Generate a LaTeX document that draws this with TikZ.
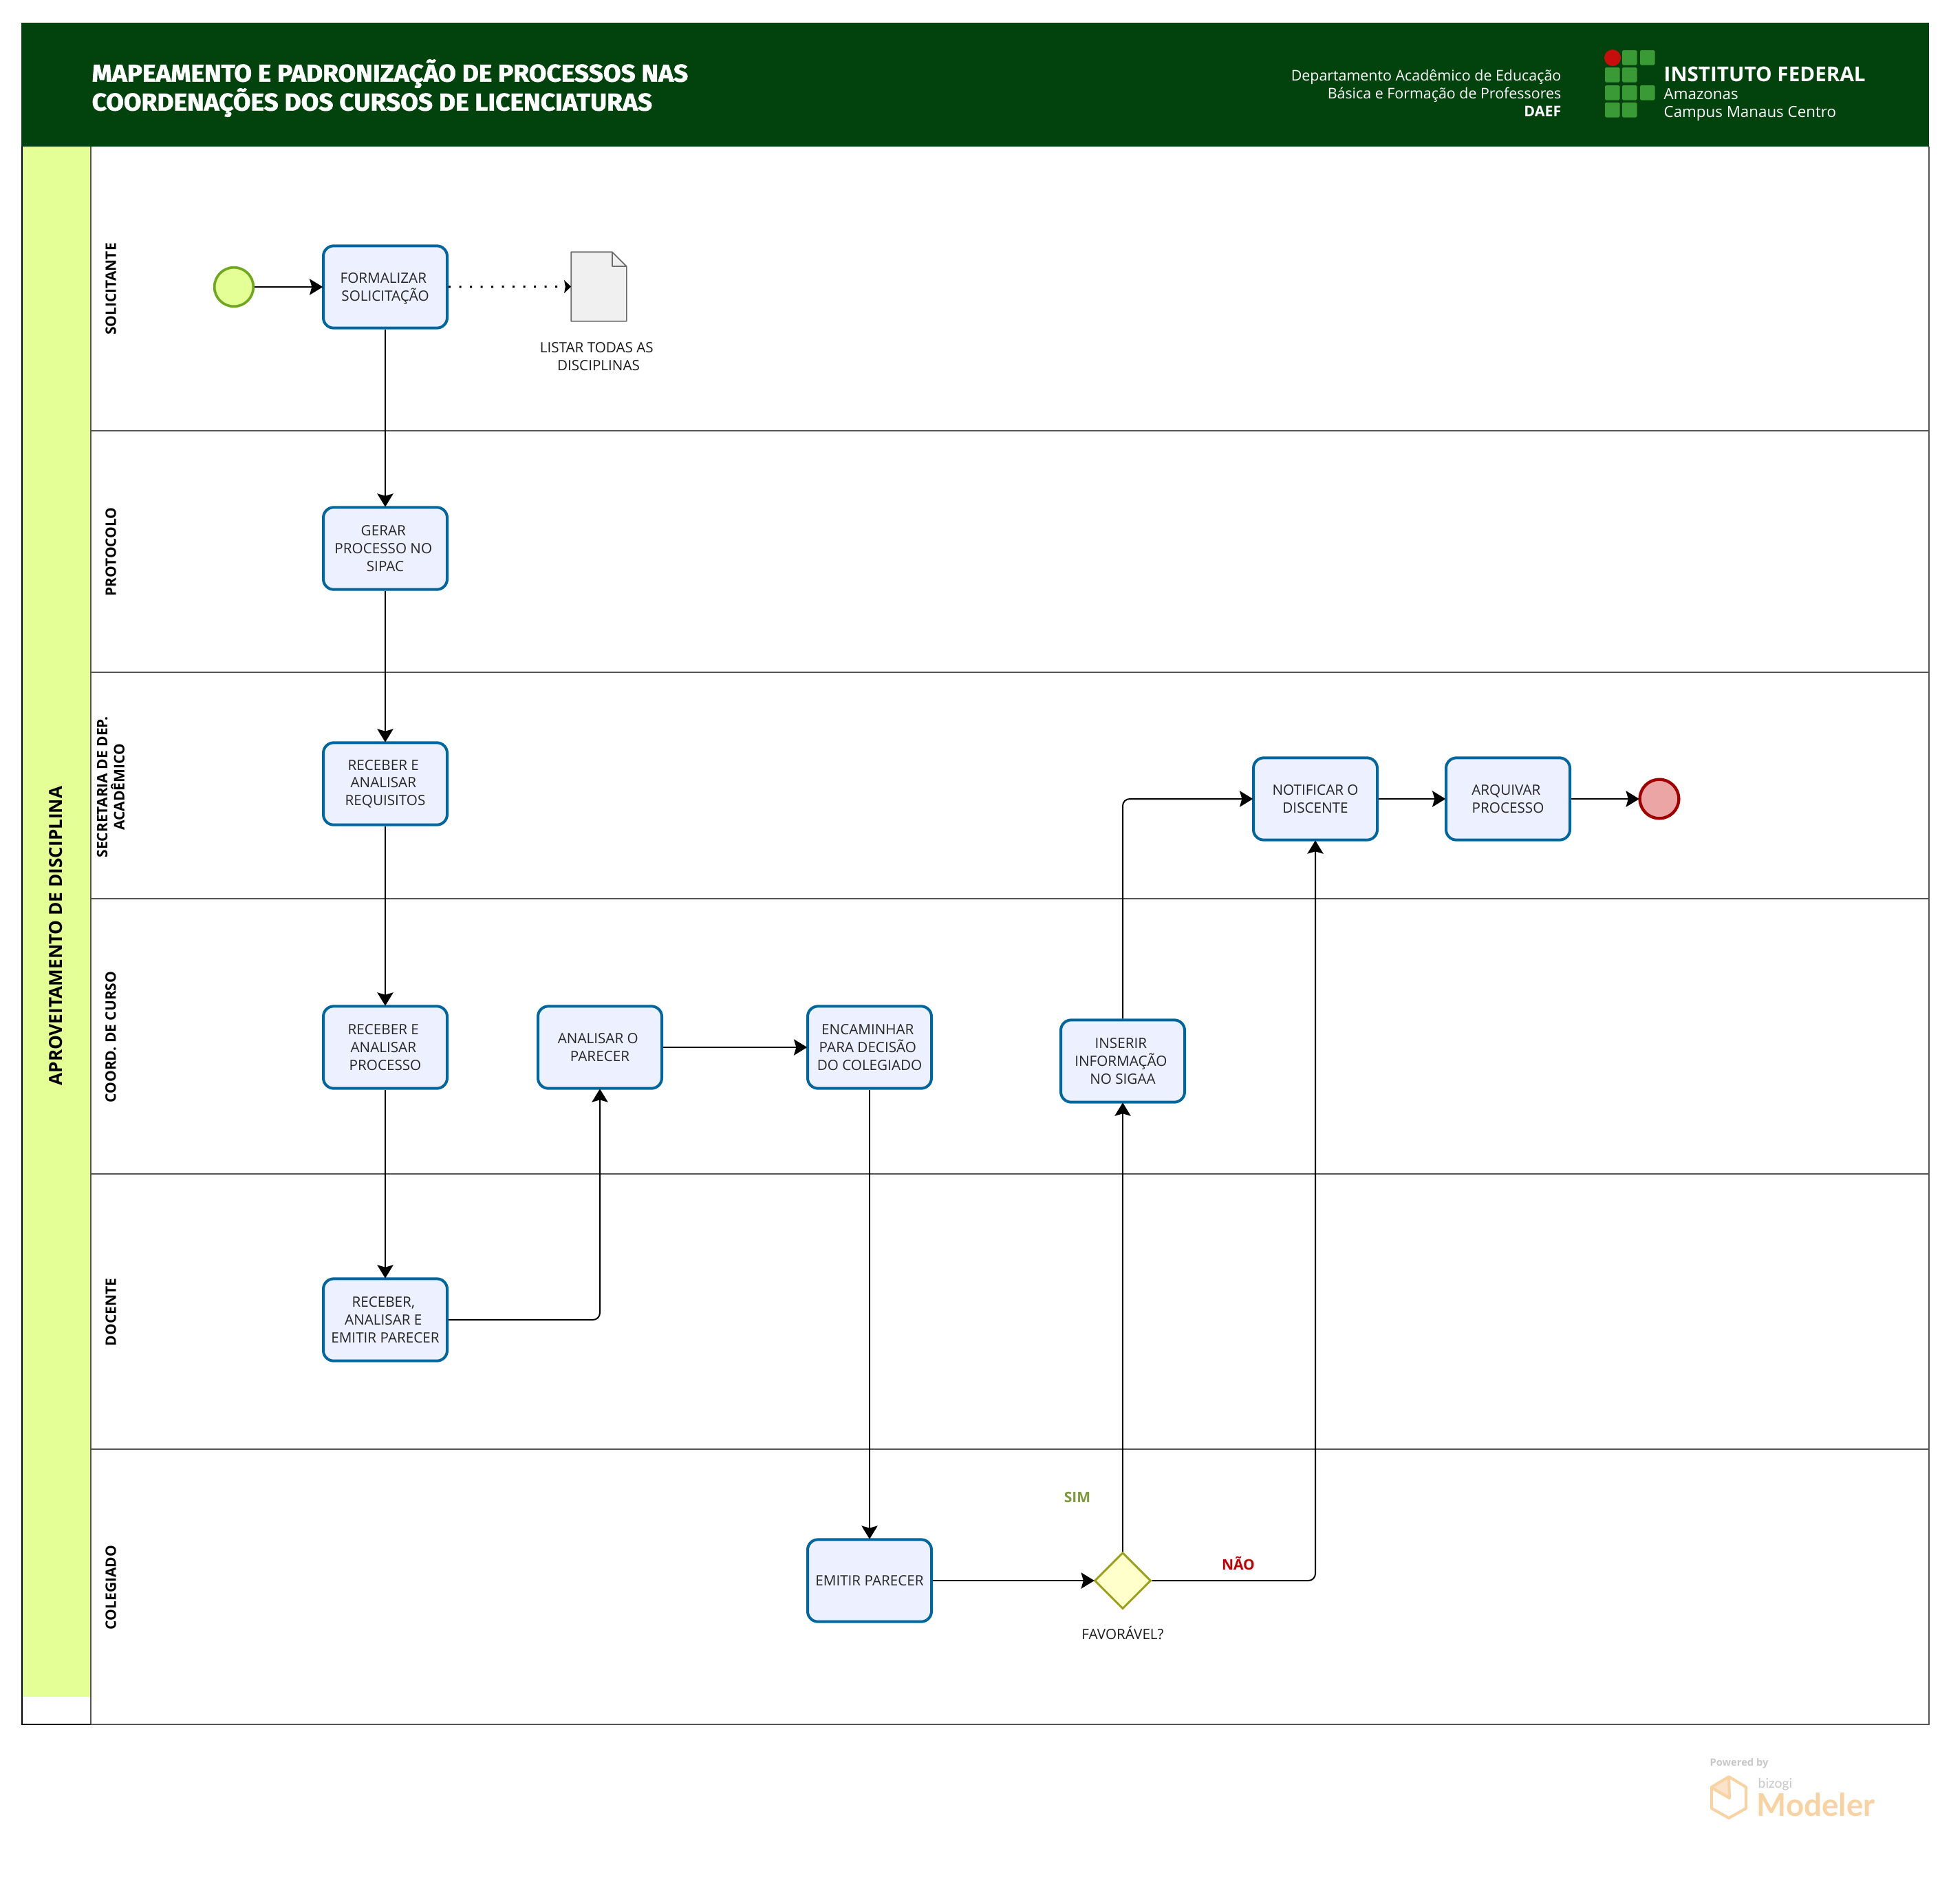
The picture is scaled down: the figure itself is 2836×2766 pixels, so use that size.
\documentclass[tikz,border=0pt]{standalone}
\usepackage{fontspec}
\setmainfont{Open Sans}
\newfontfamily\titlefont[BoldFeatures={FakeBold=1.6,FakeStretch=1.05}]{Fira Sans}
\newfontfamily\brandfont{Lato}
\usetikzlibrary{arrows.meta,shapes.geometric}
\definecolor{hdr}{HTML}{02420D}
\definecolor{lanegreen}{HTML}{E3FF96}
\definecolor{laneline}{HTML}{555555}
\definecolor{taskline}{HTML}{00669E}
\definecolor{taskfill}{HTML}{ECF0FF}
\definecolor{startline}{HTML}{6FA81E}
\definecolor{startfill}{HTML}{E4FF95}
\definecolor{endline}{HTML}{A00000}
\definecolor{endfill}{HTML}{EBA5A5}
\definecolor{gwline}{HTML}{9DA01A}
\definecolor{gwfill}{HTML}{FFFFCC}
\definecolor{docline}{HTML}{6C6C6C}
\definecolor{docfill}{HTML}{F0F0F0}
\definecolor{logogreen}{HTML}{3A9A35}
\definecolor{logored}{HTML}{C80D0D}
\definecolor{simgreen}{HTML}{7C9A3C}
\definecolor{naored}{HTML}{C00000}
\definecolor{wmorange}{HTML}{F9D2A2}
\definecolor{wmlight}{HTML}{FBE3CB}
\definecolor{wmgray}{HTML}{C8C8C8}
\newcommand{\tsp}{\hbox{\ }}
\tikzset{
  x=0.3pt,y=-0.3pt,
  tasknode/.style={draw=taskline,fill=taskfill,line width=1.2pt,rounded corners=4.5pt,
    minimum width=54pt,minimum height=35.8pt,inner sep=0pt,align=center,text=black!85,
    font=\fontsize{6.2}{7.7}\selectfont},
  startev/.style={circle,draw=startline,fill=startfill,line width=1.1pt,minimum size=17pt,inner sep=0pt},
  endev/.style={circle,draw=endline,fill=endfill,line width=1.3pt,minimum size=17pt,inner sep=0pt},
  gateway/.style={diamond,aspect=1,draw=gwline,fill=gwfill,line width=.9pt,minimum size=24.6pt,inner sep=0pt},
  plainlabel/.style={align=center,inner sep=0pt,text=black!90,font=\fontsize{6.2}{7.7}\selectfont},
  lanelabel/.style={rotate=90,align=center,inner sep=0pt,font=\fontsize{6.3}{7.4}\selectfont\bfseries},
  flow/.style={draw=black,line width=.6pt,shorten >=-.4pt,-{Stealth[length=5.8pt,width=7pt,inset=1pt]},rounded corners=3pt},
  dotflow/.style={draw=black,line width=.9pt,dash pattern=on .9pt off 3.75pt,-{Stealth[length=3pt,width=5.6pt,inset=.5pt]}},
  laneln/.style={draw=laneline,line width=.55pt},
  logosq/.style={fill=logogreen,rounded corners=.5pt},
  hdrtext/.style={inner sep=0pt,text=white,align=right,font=\fontsize{6.42}{7.8}\selectfont},
  wmline/.style={draw=wmorange,line width=1.2pt,line join=round},
}
\begin{document}
\begin{tikzpicture}
\useasboundingbox (0,0) rectangle (2836,2766);
\fill[white] (0,0) rectangle (2836,2766);
% pool
\fill[lanegreen] (32,213) rectangle (132,2466);
\draw[laneln] (132,2506) -- (2804,2506) -- (2804,213);
\draw[draw=black,line width=.6pt] (132,2506) -- (32,2506) -- (32,213);
\draw[laneln] (132,213) -- (132,2506);
\foreach \yy in {626,977,1306,1706,2106} \draw[laneln] (132,\yy) -- (2804,\yy);
% header
\fill[hdr] (31,33) rectangle (2804,213);
\node[anchor=west,inner sep=0pt,text=white,font=\titlefont\fontsize{10.6}{12.6}\selectfont\bfseries] (title1) at (133,107) {MAPEAMENTO E PADRONIZAÇÃO DE PROCESSOS NAS};
\node[anchor=west,inner sep=0pt,text=white,font=\titlefont\fontsize{10.6}{12.6}\selectfont\bfseries] (title2) at (133,149) {COORDENAÇÕES DOS CURSOS DE LICENCIATURAS};
\node[hdrtext,anchor=east] (dep1) at (2270,112) {Departamento Acadêmico de Educação};
\node[hdrtext,anchor=east] (dep2) at (2270,138) {Básica e Formação de Professores};
\node[hdrtext,anchor=east,font=\fontsize{6.42}{7.8}\selectfont\bfseries] (dep3) at (2270,162) {DAEF};
% logo
\fill[logored] (2344,84) ellipse (12 and 12);
\foreach \xa/\ya in {2358/73,2384/73,2333/98,2358/98,2333/124,2358/124,2384/124,2333/149,2358/149}
  \fill[logosq] (\xa,\ya) rectangle ++(21.5,21.5);
\node[anchor=west,inner sep=0pt,text=white,font=\fontsize{8.9}{10}\selectfont\bfseries] (if1) at (2418,108) {INSTITUTO FEDERAL};
\node[anchor=west,inner sep=0pt,text=white,font=\fontsize{6.7}{8}\selectfont] (if2) at (2418,137) {Amazonas};
\node[anchor=west,inner sep=0pt,text=white,font=\fontsize{6.7}{8}\selectfont] (if3) at (2418,165) {Campus Manaus Centro};
% lane labels
\node[rotate=90,inner sep=0pt,font=\fontsize{7.85}{9}\selectfont\bfseries] (pool) at (81,1360) {APROVEITAMENTO DE DISCIPLINA};
\node[lanelabel] (l1) at (161,420) {SOLICITANTE};
\node[lanelabel] (l2) at (161,802) {PROTOCOLO};
\node[lanelabel] (l3) at (161,1144) {SECRETARIA DE DEP.\\ACADÊMICO};
\node[lanelabel] (l4) at (161,1507) {COORD. DE CURSO};
\node[lanelabel] (l5) at (161,1907) {DOCENTE};
\node[lanelabel] (l6) at (161,2307) {COLEGIADO};
% events and tasks
\node[startev] (start) at (340,417) {};
\node[tasknode] (formal) at (560,417) {FORMALIZAR\tsp\\\smash{SOLICITAÇÃO}};
\node[inner sep=0pt,minimum width=23.8pt,minimum height=29.8pt] (doc) at (870.5,416.5) {};
\node[plainlabel] (doclabel) at (870,518) {LISTAR TODAS AS\tsp\\DISCIPLINAS};
\node[tasknode] (gerar) at (560,797) {GERAR\tsp\\PROCESSO NO\tsp\\SIPAC};
\node[tasknode] (recreq) at (560,1139) {RECEBER E\tsp\\ANALISAR\tsp\\REQUISITOS};
\node[tasknode] (recproc) at (560,1522) {RECEBER E\tsp\\ANALISAR\tsp\\PROCESSO};
\node[tasknode] (analisar) at (872,1522) {ANALISAR O\tsp\\PARECER};
\node[tasknode] (encam) at (1264,1522) {ENCAMINHAR\tsp\\PARA DECISÃO\tsp\\DO COLEGIADO};
\node[tasknode] (inserir) at (1632,1542) {INSERIR\tsp\\INFORMAÇÃO\tsp\\NO SIGAA};
\node[tasknode] (receber) at (560,1918) {RECEBER,\tsp\\ANALISAR E\tsp\\EMITIR PARECER};
\node[tasknode] (emitir) at (1264,2297) {EMITIR PARECER};
\node[gateway] (gw) at (1632,2297) {};
\node[plainlabel] (gwlabel) at (1632,2373) {FAVORÁVEL?};
\node[tasknode] (notif) at (1912,1161) {NOTIFICAR O\\DISCENTE};
\node[tasknode] (arq) at (2192,1161) {ARQUIVAR\tsp\\PROCESSO};
\node[endev] (fim) at (2412,1161) {};
\node[inner sep=0pt,text=simgreen,font=\fontsize{6.3}{7.7}\selectfont\bfseries] (sim) at (1566,2176) {SIM};
\node[inner sep=0pt,text=naored,font=\fontsize{6.3}{7.7}\selectfont\bfseries] (nao) at (1800,2272) {NÃO};
% document icon
\draw[draw=docline,fill=docfill,line width=.5pt,line join=round] (doc.north west) -- ([xshift=-6.3pt]doc.north east) -- ([yshift=-6.3pt]doc.north east) -- (doc.south east) -- (doc.south west) -- cycle;
\draw[draw=docline,line width=.5pt,line join=round] ([xshift=-6.3pt]doc.north east) -- ([xshift=-6.3pt,yshift=-6.3pt]doc.north east) -- ([yshift=-6.3pt]doc.north east);
% connectors
\draw[flow] (start) -- (formal);
\draw[dotflow] (formal) -- (doc);
\draw[flow] (formal) -- (gerar);
\draw[flow] (gerar) -- (recreq);
\draw[flow] (recreq) -- (recproc);
\draw[flow] (recproc) -- (receber);
\draw[flow] (receber.east) -| (analisar.south);
\draw[flow] (analisar) -- (encam);
\draw[flow] (encam) -- (emitir);
\draw[flow] (emitir) -- (gw);
\draw[flow] (gw) -- (inserir);
\draw[flow] (gw.east) -| (notif.south);
\draw[flow] (inserir.north) |- (notif.west);
\draw[flow] (notif) -- (arq);
\draw[flow] (arq) -- (fim);
% watermark
\node[anchor=west,inner sep=0pt,text=wmgray,font=\fontsize{4.4}{5}\selectfont\bfseries] (wm1) at (2485,2563) {Powered by};
\fill[wmlight] (2513,2582) -- (2514,2613) -- (2488,2598) -- cycle;
\draw[wmline] (2513,2582) -- (2538,2597) -- (2538,2628) -- (2513,2642) -- (2488,2628) -- (2488,2597) -- cycle;
\draw[wmline] (2513,2582) -- (2514,2613) -- (2488,2598);
\node[anchor=west,inner sep=0pt,text=wmgray,font=\brandfont\fontsize{5.8}{6}\selectfont] (wm2) at (2555,2593) {bizogi};
\node[anchor=west,inner sep=0pt,text=wmorange,font=\brandfont\fontsize{13.7}{14}\selectfont\bfseries] (wm3) at (2553,2623) {Modeler};
\end{tikzpicture}
\end{document}
